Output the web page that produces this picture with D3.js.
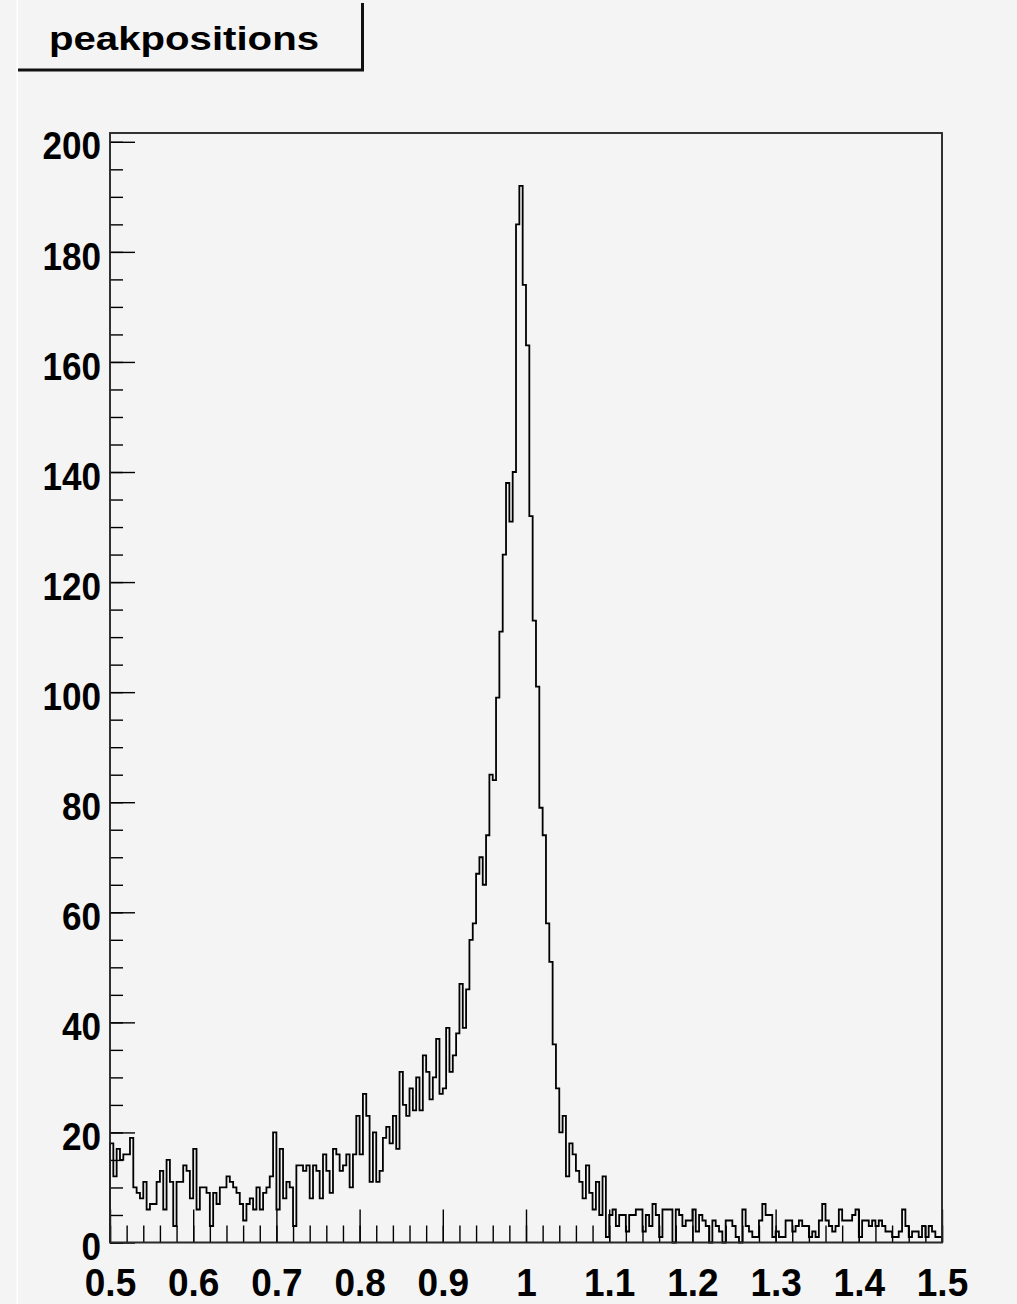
<!DOCTYPE html>
<html>
<head>
<meta charset="utf-8">
<script src="https://cdn.jsdelivr.net/npm/d3@7"></script>
<style>
  html, body { margin: 0; padding: 0; background: #f4f4f4; }
  svg { display: block; }
  text { font-family: "Liberation Sans", Arial, Helvetica, sans-serif; font-weight: bold; fill: #000; }
</style>
</head>
<body>
<script>
// Histogram "peakpositions": 250 bins from 0.5 to 1.5
const title = "peakpositions";
const xRange = [0.5, 1.5];
const xTicks = [0.5, 0.6, 0.7, 0.8, 0.9, 1.0, 1.1, 1.2, 1.3, 1.4, 1.5];
const xTickLabels = ["0.5", "0.6", "0.7", "0.8", "0.9", "1", "1.1", "1.2", "1.3", "1.4", "1.5"];
const yTicks = [0, 20, 40, 60, 80, 100, 120, 140, 160, 180, 200];
const yTickLabels = ["0", "20", "40", "60", "80", "100", "120", "140", "160", "180", "200"];

// bin contents, bins 0..249
const counts = [
  18, 12, 17, 15, 16, 16, 19, 10, 9, 8,
  11, 6, 7, 7, 11, 13, 6, 15, 11, 3,
  11, 11, 14, 13, 8, 17, 6, 10, 10, 9,
  3, 9, 7, 10, 10, 12, 11, 10, 9, 7,
  4, 7, 8, 6, 10, 6, 9, 10, 12, 20,
  6, 17, 8, 11, 10, 3, 14, 14, 13, 14,
  8, 14, 13, 8, 16, 13, 9, 17, 16, 13,
  14, 16, 10, 16, 23, 16, 27, 23, 11, 20,
  11, 13, 19, 21, 18, 23, 17, 31, 25, 23,
  28, 24, 30, 24, 34, 31, 26, 30, 37, 27,
  28, 39, 31, 34, 38, 47, 39, 46, 55, 58,
  67, 70, 65, 74, 85, 84, 99, 111, 125, 138,
  131, 140, 185, 192, 174, 163, 132, 113, 101, 79,
  74, 58, 51, 36, 28, 20, 23, 12, 18, 16,
  13, 11, 8, 14, 9, 6, 11, 5, 12, 1,
  5, 6, 3, 5, 5, 2, 5, 5, 6, 6,
  2, 5, 3, 7, 5, 1, 6, 6, 6, 0,
  6, 5, 3, 4, 4, 6, 2, 5, 4, 3,
  0, 4, 3, 2, 0, 4, 4, 3, 1, 0,
  6, 3, 2, 1, 1, 4, 7, 5, 5, 1,
  2, 1, 1, 4, 4, 2, 3, 4, 3, 3,
  1, 2, 1, 4, 7, 4, 3, 2, 3, 6,
  4, 4, 4, 5, 6, 1, 4, 4, 3, 4,
  3, 4, 3, 2, 2, 1, 1, 2, 6, 3,
  1, 2, 2, 1, 3, 1, 3, 2, 1, 1
];

const W = 1017, H = 1304;
const frame = { left: 110, right: 942, top: 133, bottom: 1242.5 };
const yMax = d3.max(counts) * 1.05;

const svg = d3.select("body").append("svg")
  .attr("width", W).attr("height", H);

svg.append("rect").attr("width", W).attr("height", H).attr("fill", "#f4f4f4");
// thin pad edge line
svg.append("rect").attr("x", 16.5).attr("y", 0).attr("width", 1.5).attr("height", H).attr("fill", "#ffffff");

// title box with shadow
const tb = svg.append("g");
tb.append("path")
  .attr("d", "M18,70 H362.5 V3")
  .attr("fill", "none").attr("stroke", "#111").attr("stroke-width", 3);
tb.append("text")
  .attr("x", 49).attr("y", 50)
  .attr("font-size", 33)
  .attr("textLength", 270)
  .attr("lengthAdjust", "spacingAndGlyphs")
  .text(title);

const x = d3.scaleLinear().domain(xRange).range([frame.left, frame.right]);
const y = d3.scaleLinear().domain([0, yMax]).range([frame.bottom, frame.top]);

// frame
svg.append("rect")
  .attr("x", frame.left).attr("y", frame.top)
  .attr("width", frame.right - frame.left).attr("height", frame.bottom - frame.top)
  .attr("fill", "#f4f4f4").attr("stroke", "#2a2a2a").attr("stroke-width", 1.6);

// histogram outline
const nBins = counts.length;
const edges = d3.range(nBins + 1).map(i => xRange[0] + (xRange[1] - xRange[0]) * i / nBins);
const pts = [[edges[0], 0]];
counts.forEach((c, i) => pts.push([edges[i], c]));
pts.push([edges[nBins], counts[nBins - 1]]);
pts.push([edges[nBins], 0]);
const line = d3.line().x(d => x(d[0])).y(d => y(d[1])).curve(d3.curveStepAfter);
svg.append("path")
  .attr("d", line(pts))
  .attr("fill", "none").attr("stroke", "#000").attr("stroke-width", 1.8)
  .attr("stroke-linejoin", "miter");

// x axis: minor ticks every 0.02, major every 0.1
const xMinor = d3.range(0, 51).map(k => xRange[0] + k * 0.02);
svg.append("g")
  .attr("transform", `translate(0,${frame.bottom})`)
  .call(d3.axisBottom(x).tickValues(xMinor).tickSizeInner(-17).tickSizeOuter(0).tickFormat(""))
  .call(g => g.select(".domain").remove())
  .call(g => g.selectAll("line").attr("stroke", "#000").attr("stroke-width", 1.4));

const xAxis = svg.append("g")
  .attr("transform", `translate(0,${frame.bottom})`)
  .call(d3.axisBottom(x).tickValues(xTicks).tickSizeInner(-33).tickSizeOuter(0)
    .tickPadding(25).tickFormat((d, i) => xTickLabels[i]));
xAxis.select(".domain").remove();
xAxis.selectAll("line").attr("stroke", "#000").attr("stroke-width", 1.4);
xAxis.selectAll("text").attr("font-size", 37).attr("fill", "#000")
  .attr("transform", "scale(1,1.05)")
  .style("font-family", "'Liberation Sans', Arial, sans-serif").style("font-weight", "bold");

// y axis: minor ticks every 5, major every 20
const yMinor = d3.range(0, 41).map(k => k * 5);
svg.append("g")
  .attr("transform", `translate(${frame.left},0)`)
  .call(d3.axisLeft(y).tickValues(yMinor).tickSizeInner(-13).tickSizeOuter(0).tickFormat(""))
  .call(g => g.select(".domain").remove())
  .call(g => g.selectAll("line").attr("stroke", "#000").attr("stroke-width", 1.4));

const yAxis = svg.append("g")
  .attr("transform", `translate(${frame.left},0)`)
  .call(d3.axisLeft(y).tickValues(yTicks).tickSizeInner(-25).tickSizeOuter(0)
    .tickPadding(10).tickFormat((d, i) => yTickLabels[i]));
yAxis.select(".domain").remove();
yAxis.selectAll("line").attr("stroke", "#000").attr("stroke-width", 1.4);
yAxis.selectAll("text")
  .attr("font-size", 39).attr("fill", "#000").attr("dy", "0.44em")
  .attr("transform", "scale(0.9,1)")
  .style("font-family", "'Liberation Sans', Arial, sans-serif").style("font-weight", "bold");

// redraw frame edges on top of the histogram
svg.append("rect")
  .attr("x", frame.left).attr("y", frame.top)
  .attr("width", frame.right - frame.left).attr("height", frame.bottom - frame.top)
  .attr("fill", "none").attr("stroke", "#2a2a2a").attr("stroke-width", 1.6);
</script>
</body>
</html>
